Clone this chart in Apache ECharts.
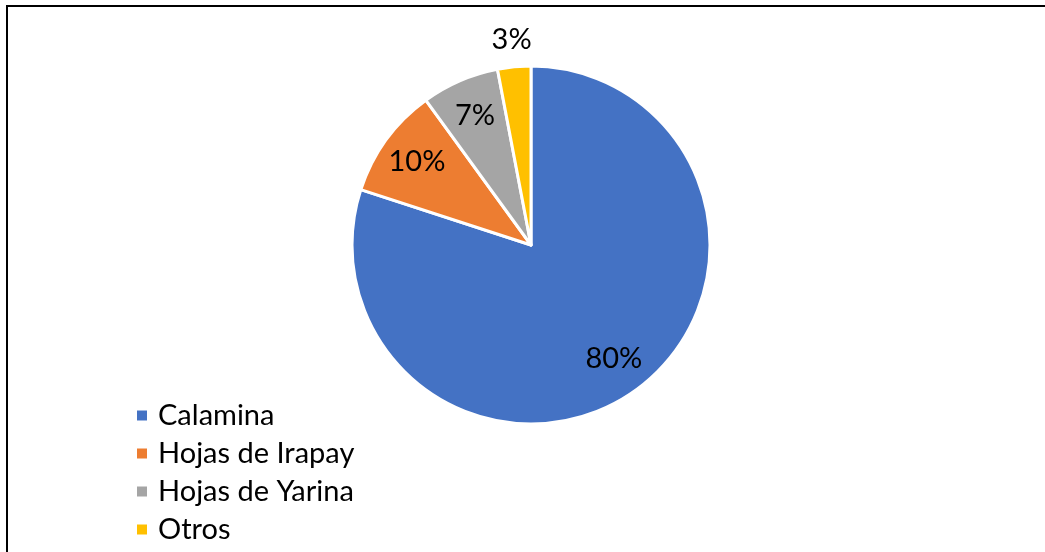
<!DOCTYPE html>
<html>
<head>
<meta charset="utf-8">
<script src="https://cdn.jsdelivr.net/npm/echarts@6/dist/echarts.min.js"></script>
<style>
  html, body { margin: 0; padding: 0; background: #fff; }
  #main { width: 1045px; height: 552px; }
</style>
</head>
<body>
<div id="main"></div>
<script>
var categories = ["Calamina", "Hojas de Irapay", "Hojas de Yarina", "Otros"];
var values = [80, 10, 7, 3];
var colors = ["#4472C4", "#ED7D31", "#A5A5A5", "#FFC000"];

var font = "Lato, 'Noto Sans', sans-serif";
var center = [531, 245];

var pieData = categories.map(function (name, i) {
  return { name: name, value: values[i], itemStyle: { color: colors[i] } };
});

// transparent copies of the pie that only carry the percentage labels
function labelData(showOnly) {
  return categories.map(function (name, i) {
    return {
      name: name,
      value: values[i],
      itemStyle: { color: "rgba(0,0,0,0)", borderWidth: 0 },
      label: { show: showOnly(i) }
    };
  });
}

var labelStyle = {
  position: "inside",
  formatter: function (p) { return p.value + "%"; },
  color: "#000",
  fontSize: 29,
  fontFamily: font
};

var chartDom = document.getElementById("main");
var myChart = echarts.init(chartDom);
var option;

option = {
  animation: false,
  graphic: [
    {
      type: "rect",
      shape: { x: 7, y: 6, width: 1200, height: 700 },
      style: { fill: "none", stroke: "#000", lineWidth: 2 },
      silent: true
    }
  ],
  legend: {
    orient: "vertical",
    left: 130,
    top: 396,
    data: categories,
    icon: "rect",
    itemWidth: 12,
    itemHeight: 12,
    itemGap: 9,
    selectedMode: false,
    textStyle: {
      fontFamily: font,
      fontSize: 29,
      color: "#000",
      padding: [0, 0, 0, 5]
    }
  },
  series: [
    {
      type: "pie",
      center: center,
      radius: [0, 179],
      startAngle: 90,
      clockwise: true,
      silent: true,
      label: { show: false },
      labelLine: { show: false },
      itemStyle: { borderColor: "#fff", borderWidth: 3 },
      data: pieData
    },
    {
      type: "pie",
      center: center,
      radius: [98, 178],
      startAngle: 90,
      clockwise: true,
      silent: true,
      avoidLabelOverlap: false,
      label: labelStyle,
      labelLine: { show: false },
      data: labelData(function (i) { return i < 3; })
    },
    {
      type: "pie",
      center: center,
      radius: [190, 216],
      startAngle: 90,
      clockwise: true,
      silent: true,
      avoidLabelOverlap: false,
      label: labelStyle,
      labelLine: { show: false },
      data: labelData(function (i) { return i === 3; })
    }
  ]
};

option && myChart.setOption(option);
</script>
</body>
</html>
